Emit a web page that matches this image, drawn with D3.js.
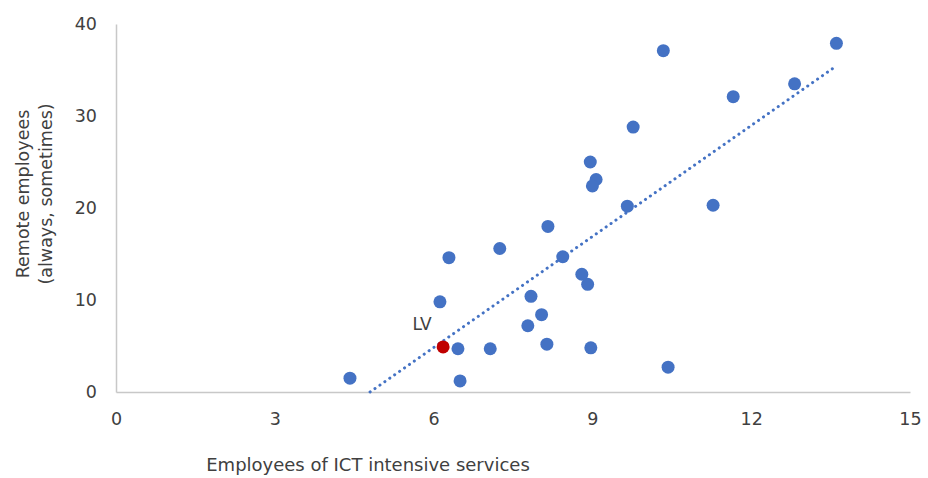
<!DOCTYPE html>
<html>
<head>
<meta charset="utf-8">
<script src="https://cdn.jsdelivr.net/npm/d3@7"></script>
<style>
  body { margin: 0; background: #fff; }
  text { font-family: "DejaVu Sans", Verdana, sans-serif; fill: #404040; }
</style>
</head>
<body>
<svg id="chart" width="928" height="478"></svg>
<script>
// Countries: share of ICT intensive service employees vs remote employees (%)
var ictShare = [4.42, 6.46, 6.50, 7.07, 6.12, 6.29, 7.25, 8.16, 8.44, 7.84, 7.78, 8.04, 8.14,
                8.80, 8.91, 8.97, 8.96, 9.07, 9.00, 9.66, 9.77, 10.34, 10.43, 11.28, 11.66, 12.82, 13.61];
var remoteShare = [1.5, 4.7, 1.2, 4.7, 9.8, 14.6, 15.6, 18.0, 14.7, 10.4, 7.2, 8.4, 5.2,
                   12.8, 11.7, 4.8, 25.0, 23.1, 22.4, 20.2, 28.8, 37.1, 2.7, 20.3, 32.1, 33.5, 37.9];
// highlighted country
var highlight = {label: "LV", x: 6.18, y: 4.9};
// linear trend line end points as shown
var trendX = [4.8, 13.6];
var trendY = [0, 35.4];

var xTicks = [0, 3, 6, 9, 12, 15];
var yTicks = [0, 10, 20, 30, 40];

var margin = {top: 24, right: 18, bottom: 86, left: 116},
  width = 928 - margin.left - margin.right,
  height = 478 - margin.top - margin.bottom;

var svg = d3.select("#chart");
var g = svg.append("g").attr("transform", "translate(" + margin.left + "," + margin.top + ")");

var x = d3.scaleLinear().domain([0, 15]).range([0, width]);
var y = d3.scaleLinear().domain([0, 40]).range([height, 0]);

// axes
var xAxis = g.append("g")
  .attr("transform", "translate(0," + height + ")")
  .call(d3.axisBottom(x).tickValues(xTicks).tickSize(0).tickPadding(21));
var yAxis = g.append("g")
  .call(d3.axisLeft(y).tickValues(yTicks).tickSize(0).tickPadding(19));

[xAxis, yAxis].forEach(function(a) {
  a.select(".domain").attr("stroke", "#c8c8c8").attr("stroke-width", 1.5);
  a.selectAll("text").attr("font-size", 17.5).attr("fill", "#404040")
    .attr("font-family", "DejaVu Sans, Verdana, sans-serif");
});

// trend line
var trend = trendX.map(function(d, i) { return {x: d, y: trendY[i]}; });
g.append("path")
  .datum(trend)
  .attr("fill", "none")
  .attr("stroke", "#4472C4")
  .attr("stroke-width", 3)
  .attr("stroke-linecap", "round")
  .attr("stroke-dasharray", "0.1 5.9")
  .attr("d", d3.line().x(function(d) { return x(d.x); }).y(function(d) { return y(d.y); }));

// points
var points = ictShare.map(function(d, i) { return {x: d, y: remoteShare[i]}; });
g.selectAll("circle.pt")
  .data(points)
  .enter()
  .append("circle")
  .attr("class", "pt")
  .attr("cx", function(d) { return x(d.x); })
  .attr("cy", function(d) { return y(d.y); })
  .attr("r", 6.5)
  .attr("fill", "#4472C4");

g.append("circle")
  .attr("cx", x(highlight.x))
  .attr("cy", y(highlight.y))
  .attr("r", 6.5)
  .attr("fill", "#C00000");

g.append("text")
  .attr("x", x(highlight.x) - 21)
  .attr("y", y(highlight.y) - 17)
  .attr("text-anchor", "middle")
  .attr("font-size", 17)
  .text(highlight.label);

// axis titles
svg.append("text")
  .attr("x", 368)
  .attr("y", 471)
  .attr("text-anchor", "middle")
  .attr("font-size", 18)
  .text("Employees of ICT intensive services");

var yTitle = svg.append("text")
  .attr("transform", "translate(29,194) rotate(-90)")
  .attr("text-anchor", "middle")
  .attr("font-size", 17.5);
yTitle.append("tspan").attr("x", 0).attr("dy", 0).text("Remote employees");
yTitle.append("tspan").attr("x", 0).attr("dy", 23).text("(always, sometimes)");
</script>
</body>
</html>
